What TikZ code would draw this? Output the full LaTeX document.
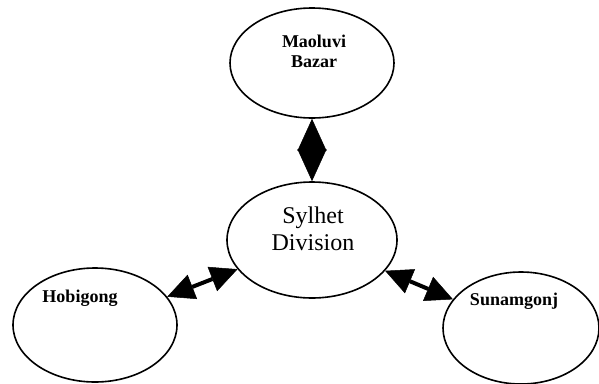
\documentclass[tikz,border=0pt]{standalone}
\usepackage{fontspec}
\setmainfont{Liberation Serif}
\usetikzlibrary{arrows.meta,shapes.geometric}

\begin{document}
\begin{tikzpicture}[x=1pt,y=-1pt,>={Triangle[length=27pt,width=26pt,line width=0.5pt]},
		district/.style={ellipse,draw,line width=1.6pt,inner sep=0pt},
		smalltext/.style={font=\fontsize{18}{20}\selectfont\bfseries,align=center},
		bigtext/.style={font=\fontsize{24}{27}\selectfont,align=center},
		link/.style={<->,line width=4pt}]
		\useasboundingbox (0,0) rectangle (599,383);
		\node[district,minimum width=164pt,minimum height=110pt] (bazar) at (312,63) {};
		\node[district,minimum width=170pt,minimum height=116pt] (sylhet) at (312,240) {};
		\node[district,minimum width=164pt,minimum height=114pt] (hobigong) at (95,325) {};
		\node[district,minimum width=156pt,minimum height=112pt] (sunamgonj) at (521,328) {};
		\node[smalltext] (bazar_t) at (314,51) {Maoluvi\\Bazar};
		\node[bigtext] (sylhet_t) at (313,229) {Sylhet\\Division};
		\node[smalltext] (hobigong_t) at (80,298) {Hobigong};
		\node[smalltext] (sunamgonj_t) at (514,301) {Sunamgonj};
		\path[link]
			(bazar) edge [{Triangle[length=32pt,width=29pt,line width=0.5pt]}-{Triangle[length=32pt,width=29pt,line width=0.5pt]}] (sylhet)
			(hobigong) edge (sylhet)
			(sylhet) edge (sunamgonj);
	\end{tikzpicture}
\end{document}
